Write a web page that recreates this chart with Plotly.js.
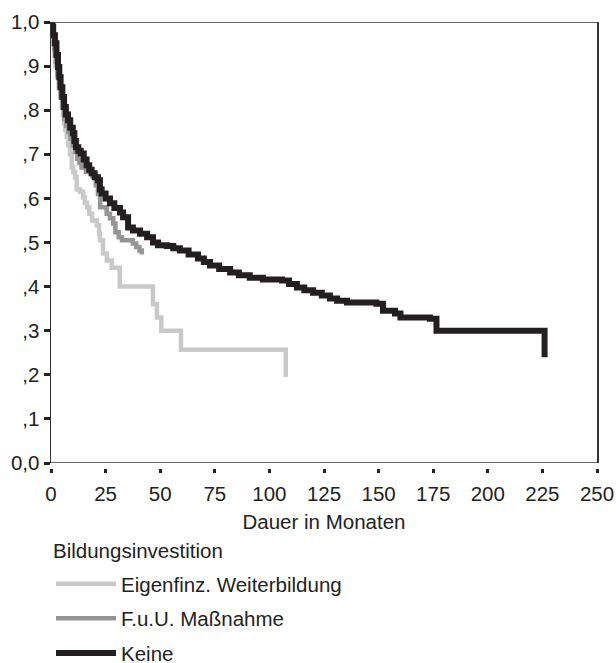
<!DOCTYPE html>
<html>
<head>
<meta charset="utf-8">
<script src="https://cdn.plot.ly/plotly-3.0.1.min.js"></script>
<style>html,body{margin:0;padding:0;background:#fff;}#chart{width:616px;height:663px;}</style>
</head>
<body>
<div id="chart"></div>
<script>
// Kaplan-Meier curves
const seriesNames = ['Eigenfinz. Weiterbildung', 'F.u.U. Maßnahme', 'Keine'];
const legendTitle = 'Bildungsinvestition';

const eigenT = [0, 0.5, 1, 1.5, 2, 2.8, 3.5, 4.2, 5, 5.5, 6, 6.5, 7.2, 8, 8.7, 9.5, 10.2, 11, 11.8, 13.3, 14.7, 15.5, 16.5, 17.5, 18.8, 21, 22, 22.4, 23.8, 25.6, 27.8, 31.5, 46.7, 48.5, 50.5, 59.5, 107.5];
const eigenS = [1.0, 0.975, 0.95, 0.925, 0.90, 0.875, 0.85, 0.83, 0.81, 0.79, 0.77, 0.755, 0.74, 0.72, 0.70, 0.67, 0.66, 0.648, 0.62, 0.615, 0.602, 0.59, 0.58, 0.565, 0.55, 0.539, 0.52, 0.505, 0.475, 0.459, 0.443, 0.40, 0.36, 0.33, 0.30, 0.257, 0.195];

const fuuT = [0, 0.7, 1.5, 2.2, 3, 3.8, 4.5, 5.2, 6, 7, 8, 9, 10, 11, 12, 13, 14, 16, 19, 20.5, 21.5, 22.5, 25.5, 27, 28.5, 29.5, 31, 32.5, 37.5, 39, 40.5, 41.6];
const fuuS = [1.0, 0.97, 0.94, 0.91, 0.88, 0.855, 0.83, 0.805, 0.78, 0.765, 0.75, 0.735, 0.72, 0.705, 0.69, 0.68, 0.67, 0.66, 0.65, 0.63, 0.61, 0.58, 0.565, 0.555, 0.543, 0.523, 0.512, 0.505, 0.498, 0.49, 0.482, 0.473];

const keineT = [0, 0.5, 1, 1.8, 2.5, 3.2, 3.8, 4.4, 5.2, 6, 6.8, 7.8, 8.8, 10, 10.7, 11.4, 12.5, 13.6, 15, 16.3, 17.5, 18.6, 20, 21.5, 22.4, 23.2, 25, 27, 29, 31.6, 33, 35.3, 37.5, 40.8, 44, 46.7, 49, 53, 56, 59, 63, 67.3, 70, 72.8, 77, 82, 86, 91, 97, 105.8, 109, 112.6, 116, 120, 124, 127.7, 131, 135.5, 149, 152, 157.5, 160, 173.5, 176.5, 226];
const keineS = [1.0, 0.99, 0.97, 0.952, 0.925, 0.898, 0.875, 0.852, 0.83, 0.807, 0.79, 0.777, 0.76, 0.748, 0.73, 0.716, 0.708, 0.702, 0.688, 0.675, 0.665, 0.657, 0.648, 0.641, 0.62, 0.611, 0.60, 0.589, 0.578, 0.568, 0.557, 0.534, 0.527, 0.52, 0.512, 0.50, 0.494, 0.492, 0.487, 0.482, 0.473, 0.464, 0.456, 0.448, 0.44, 0.432, 0.426, 0.42, 0.416, 0.414, 0.406, 0.398, 0.392, 0.386, 0.38, 0.373, 0.368, 0.364, 0.361, 0.345, 0.339, 0.33, 0.327, 0.30, 0.24];

const xTickVals = [0, 25, 50, 75, 100, 125, 150, 175, 200, 225, 250];
const yTickVals = [0, 0.1, 0.2, 0.3, 0.4, 0.5, 0.6, 0.7, 0.8, 0.9, 1.0];
const yTickText = ['0,0', ',1', ',2', ',3', ',4', ',5', ',6', ',7', ',8', ',9', '1,0'];

const FONT = 'Liberation Sans, Arial, sans-serif';
const TXT = '#222222';
const FS = 20.5;

function curve(t, s, name, color, width) {
  return {
    type: 'scatter', mode: 'lines', x: t, y: s, name: name,
    legendgroup: name,
    line: {shape: 'hv', color: color, width: width},
    hoverinfo: 'skip'
  };
}

const data = [
  curve(eigenT, eigenS, seriesNames[0], '#c9c9c9', 4.5),
  curve(fuuT, fuuS, seriesNames[1], '#959595', 4.5),
  curve(keineT, keineS, seriesNames[2], '#231f20', 6)
];

const layout = {
  width: 616, height: 663,
  paper_bgcolor: '#ffffff', plot_bgcolor: '#ffffff',
  margin: {l: 51, r: 19, t: 22, b: 195, pad: 0, autoexpand: false},
  font: {family: FONT, size: FS, color: TXT},
  showlegend: true,
  xaxis: {
    anchor: 'free', position: 0, automargin: false,
    range: [0, 250], tickvals: xTickVals, ticktext: xTickVals.map(String),
    showline: false, showgrid: false, zeroline: false,
    ticks: 'outside', ticklen: 4, tickwidth: 3, tickcolor: '#222',
    ticklabelstandoff: 3,
    tickfont: {family: FONT, size: FS, color: TXT},
    title: {text: 'Dauer in Monaten', font: {family: FONT, size: FS, color: TXT}, standoff: 11}
  },
  yaxis: {
    domain: [0.0112, 1], automargin: false,
    range: [0, 1], tickvals: yTickVals, ticktext: yTickText,
    showline: true, linecolor: '#333', linewidth: 1.5, mirror: true,
    showgrid: false, zeroline: false,
    ticks: 'outside', ticklen: 6, tickwidth: 3, tickcolor: '#222',
    tickfont: {family: FONT, size: FS, color: TXT}
  },
  shapes: [
    {type: 'line', xref: 'paper', yref: 'y', x0: 0, x1: 1, y0: 0, y1: 0, line: {color: '#333', width: 1.5}},
    {type: 'line', xref: 'paper', yref: 'y', x0: 0, x1: 1, y0: 1, y1: 1, line: {color: '#333', width: 1.5}}
  ],
  annotations: [
    {text: legendTitle, xref: 'paper', yref: 'paper', x: -0.0005, y: -0.184,
     xanchor: 'left', yanchor: 'middle', showarrow: false,
     font: {family: FONT, size: FS, color: TXT}}
  ],
  legend: {
    x: 0, xanchor: 'left', xref: 'paper',
    y: -0.215, yanchor: 'top',
    orientation: 'v', traceorder: 'grouped', tracegroupgap: 5,
    itemwidth: 60,
    bgcolor: 'rgba(0,0,0,0)',
    font: {family: FONT, size: FS, color: TXT}
  }
};

Plotly.newPlot('chart', data, layout, {displayModeBar: false, staticPlot: true});
</script>
</body>
</html>
